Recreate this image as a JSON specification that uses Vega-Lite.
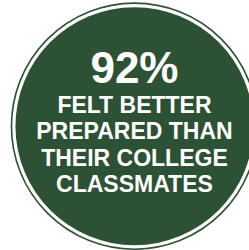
{
  "$schema": "https://vega.github.io/schema/vega-lite/v6.json",
  "autosize": {"type": "none"},
  "width": 249,
  "height": 250,
  "padding": 0,
  "background": "#ffffff",
  "config": {"view": {"stroke": null}},
  "datasets": {
    "badge": [{"col": 0, "line": 1.5}],
    "lines": [
      {"col": 0, "line": 0, "kind": "big", "text": "92%"},
      {"col": 0, "line": 1, "kind": "small", "text": "FELT BETTER"},
      {"col": 0, "line": 2, "kind": "small", "text": "PREPARED THAN"},
      {"col": 0, "line": 3, "kind": "small", "text": "THEIR COLLEGE"},
      {"col": 0, "line": 4, "kind": "small", "text": "CLASSMATES"}
    ]
  },
  "encoding": {
    "x": {"field": "col", "type": "quantitative", "axis": null, "scale": {"domain": [-1.08, 0.92], "nice": false, "zero": false}},
    "y": {"field": "line", "type": "quantitative", "axis": null, "scale": {"domain": [-3.292, 6.203], "nice": false, "zero": false, "reverse": true}}
  },
  "layer": [
    {
      "data": {"name": "badge"},
      "mark": {"type": "point", "shape": "circle", "filled": false, "size": 60516, "stroke": "#2d5134", "strokeWidth": 1.6, "opacity": 1}
    },
    {
      "data": {"name": "badge"},
      "mark": {"type": "point", "shape": "circle", "filled": true, "size": 56644, "fill": "#2d5134", "opacity": 1}
    },
    {
      "data": {"name": "lines"},
      "transform": [{"filter": "datum.kind === 'big'"}],
      "mark": {"type": "text", "font": "Liberation Sans", "fontWeight": "bold", "fontSize": 44, "color": "#ffffff", "align": "center", "baseline": "alphabetic", "dy": -4},
      "encoding": {"text": {"field": "text"}}
    },
    {
      "data": {"name": "lines"},
      "transform": [{"filter": "datum.kind === 'small'"}],
      "mark": {"type": "text", "font": "Liberation Sans", "fontWeight": "bold", "fontSize": 23, "color": "#ffffff", "align": "center", "baseline": "alphabetic"},
      "encoding": {"text": {"field": "text"}}
    }
  ]
}
